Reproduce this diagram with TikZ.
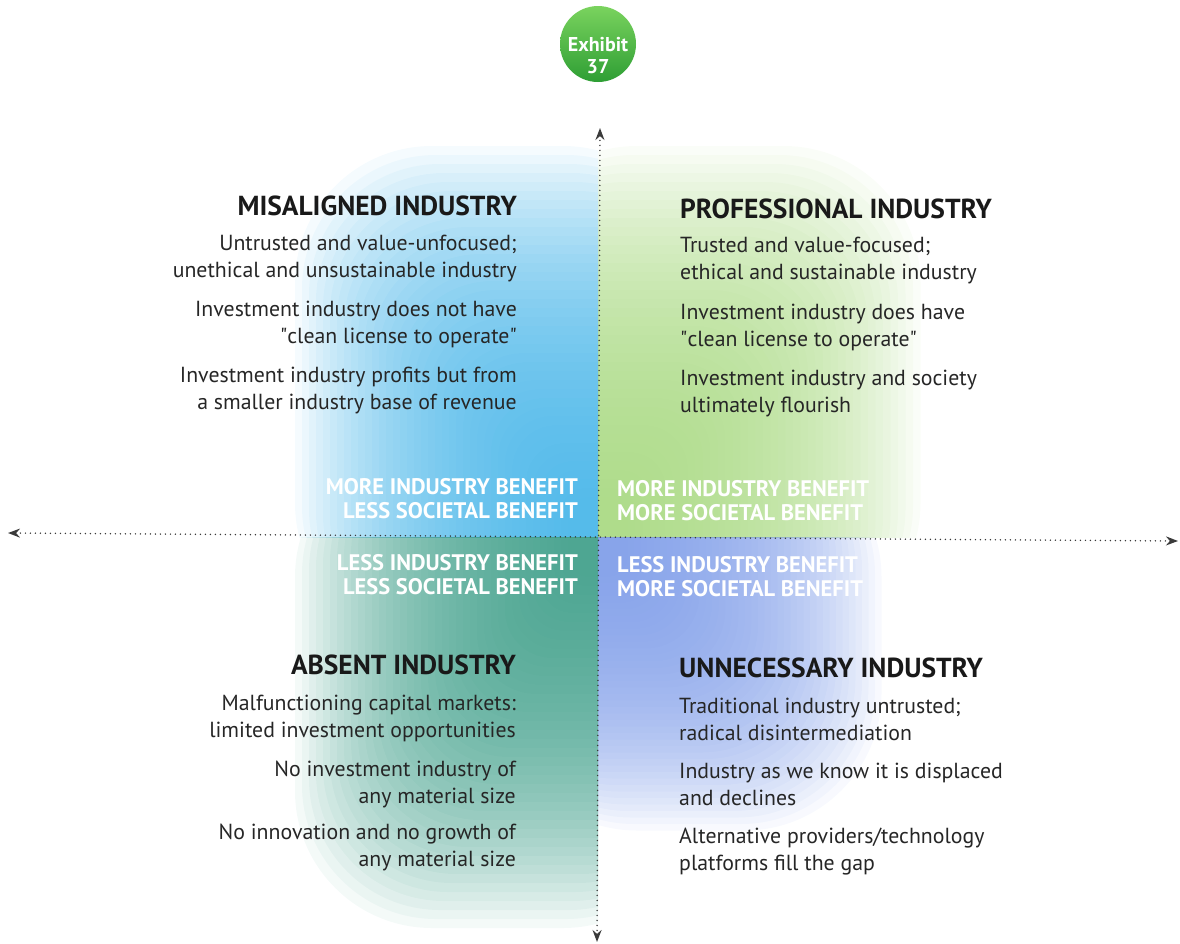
\documentclass[tikz,border=0pt]{standalone}
\usepackage{fontspec}
\setmainfont{PT Sans}
\usetikzlibrary{arrows.meta}

\definecolor{misblue}{HTML}{42B3E8}
\definecolor{progreen}{HTML}{A6D87E}
\definecolor{absteal}{HTML}{3A9C86}
\definecolor{unnblue}{HTML}{7B9AE8}
\definecolor{axisgray}{HTML}{3A3A3A}
\definecolor{badgetop}{HTML}{7AD35E}
\definecolor{badgebot}{HTML}{2E9E34}

\tikzset{
  head/.style={font=\fontsize{27.5}{30}\selectfont\bfseries, inner sep=0pt, text=black!90},
  body/.style={font=\fontsize{21.8}{26.5}\selectfont, inner sep=0pt, text=black!85},
  benefit/.style={font=\fontsize{22.5}{24}\selectfont\bfseries, text=white, inner sep=0pt},
  axis/.style={draw=axisgray, line width=1.6pt, dash pattern=on 0pt off 5pt, line cap=round,
    {Stealth[length=12pt,width=9pt]}-{Stealth[length=12pt,width=9pt]}},
  blob/.style={fill=#1, opacity=0.055}
}

\begin{document}
\begin{tikzpicture}[x=1pt,y=-1pt]
\useasboundingbox (0,0) rectangle (1180,943);

% soft colour fields
\begin{scope}
  \clip (0,0) rectangle (598,537);
  \foreach \i in {0,...,39}{
    \pgfmathsetmacro\rad{20+3*\i}
    \fill[blob=misblue, rounded corners=\rad pt] (568-7*\i,497-9*\i) rectangle (700,640);}
\end{scope}
\begin{scope}
  \clip (598,0) rectangle (1180,537);
  \foreach \i in {0,...,39}{
    \pgfmathsetmacro\rad{20+3*\i}
    \fill[blob=progreen, rounded corners=\rad pt] (500,497-9*\i) rectangle (628+7.5*\i,640);}
\end{scope}
\begin{scope}
  \clip (0,537) rectangle (598,943);
  \foreach \i in {0,...,39}{
    \pgfmathsetmacro\rad{20+3*\i}
    \fill[blob=absteal, rounded corners=\rad pt] (568-7*\i,440) rectangle (700,577+9*\i);}
\end{scope}
\begin{scope}
  \clip (598,537) rectangle (1180,943);
  \foreach \i in {0,...,39}{
    \pgfmathsetmacro\rad{20+3*\i}
    \fill[blob=unnblue, rounded corners=\rad pt] (500,440) rectangle (628+6.5*\i,577+6.5*\i);}
\end{scope}

% exhibit badge
\node[circle, minimum size=76pt, inner sep=0pt, top color=badgetop, bottom color=badgebot] (exhibit) at (598,44) {};
\node[text=white, font=\fontsize{20}{22}\selectfont\bfseries, align=center, inner sep=0pt] (exhibitLbl)
  at ([yshift=-12pt]exhibit.center) {Exhibit\\37};

% axes
\coordinate (top) at (600,128);
\coordinate (bot) at (597,942);
\coordinate (lft) at (8,533);
\coordinate (rgt) at (1178,541);
\draw[axis] (top) -- (bot);
\draw[axis] (lft) -- (rgt);

% misaligned
\node[head, anchor=base east] (misH) at (517,215) {MISALIGNED INDUSTRY};
\node[body, anchor=base east, align=right] (misA) at (517,277) {Untrusted and value-unfocused;\\unethical and unsustainable industry};
\node[body, anchor=base east, align=right] (misB) at (517,343) {Investment industry does not have\\\textquotedbl clean license to operate\textquotedbl};
\node[body, anchor=base east, align=right] (misC) at (517,409) {Investment industry profits but from\\a smaller industry base of revenue};

% professional
\node[head, anchor=base west] (proH) at (680,218) {PROFESSIONAL INDUSTRY};
\node[body, anchor=base west, align=left] (proA) at (680,279) {Trusted and value-focused;\\ethical and sustainable industry};
\node[body, anchor=base west, align=left] (proB) at (680,346) {Investment industry does have\\\textquotedbl clean license to operate\textquotedbl};
\node[body, anchor=base west, align=left] (proC) at (680,412) {Investment industry and society\\ultimately flourish};

% absent
\node[head, anchor=base east] (absH) at (516,674) {ABSENT INDUSTRY};
\node[body, anchor=base east, align=right] (absA) at (516,737) {Malfunctioning capital markets:\\limited investment opportunities};
\node[body, anchor=base east, align=right] (absB) at (516,803) {No investment industry of\\any material size};
\node[body, anchor=base east, align=right] (absC) at (516,866) {No innovation and no growth of\\any material size};

% unnecessary
\node[head, anchor=base west] (unnH) at (679,677) {UNNECESSARY INDUSTRY};
\node[body, anchor=base west, align=left] (unnA) at (679,740) {Traditional industry untrusted;\\radical disintermediation};
\node[body, anchor=base west, align=left] (unnB) at (679,805) {Industry as we know it is displaced\\and declines};
\node[body, anchor=base west, align=left] (unnC) at (679,870) {Alternative providers/technology\\platforms fill the gap};

% benefit labels
\node[benefit, anchor=base east, align=right] (misBen) at (578,518) {MORE INDUSTRY BENEFIT\\LESS SOCIETAL BENEFIT};
\node[benefit, anchor=base west, align=left] (proBen) at (617,520) {MORE INDUSTRY BENEFIT\\MORE SOCIETAL BENEFIT};
\node[benefit, anchor=base east, align=right] (absBen) at (578,594) {LESS INDUSTRY BENEFIT\\LESS SOCIETAL BENEFIT};
\node[benefit, anchor=base west, align=left] (unnBen) at (617,596) {LESS INDUSTRY BENEFIT\\MORE SOCIETAL BENEFIT};
\end{tikzpicture}
\end{document}
